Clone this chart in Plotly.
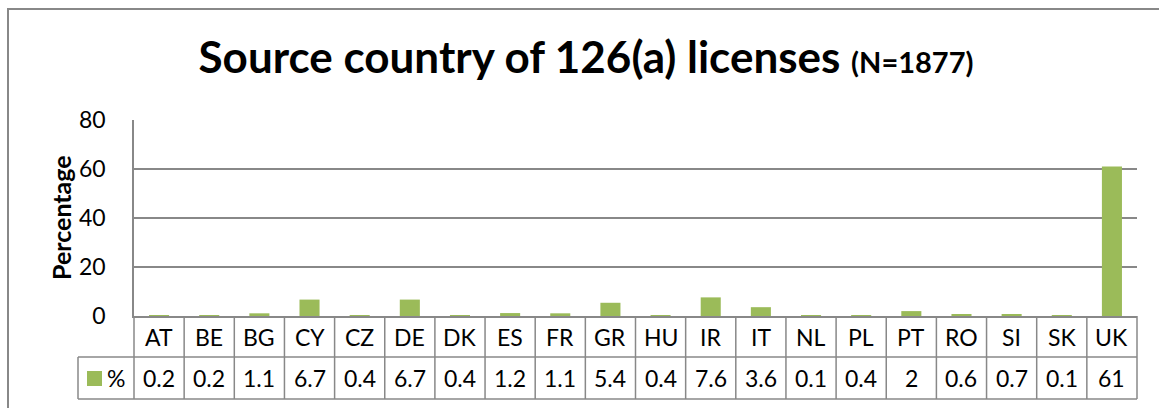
import plotly.graph_objects as go

# ---- data ----
countries = ["AT", "BE", "BG", "CY", "CZ", "DE", "DK", "ES", "FR", "GR",
             "HU", "IR", "IT", "NL", "PL", "PT", "RO", "SI", "SK", "UK"]
percent = [0.2, 0.2, 1.1, 6.7, 0.4, 6.7, 0.4, 1.2, 1.1, 5.4,
           0.4, 7.6, 3.6, 0.1, 0.4, 2, 0.6, 0.7, 0.1, 61]
series_name = "%"
y_ticks = [0, 20, 40, 60, 80]
title_main = "Source country of 126(a) licenses"
title_sub = "(N=1877)"
y_title = "Percentage"

# ---- layout geometry (pixels) ----
W, H = 1159, 408
L, R, T, B = 134, 1137, 120, 316
PW, PH = R - L, B - T

def px_x(px):
    return (px - L) / PW

def px_y(py):
    return (B - py) / PH

FONT = "Lato, 'Open Sans', sans-serif"
GREEN = "#9BBB59"
GRID = "#888888"
LW = 1.5

fig = go.Figure()
fig.add_trace(go.Bar(x=countries, y=percent, marker_color=GREEN,
                     marker_line_width=0, name=series_name, showlegend=False))

shapes = []
row1_bot = 357
row2_bot = 399
legend_left = 78
for yb in (row1_bot, row2_bot):
    shapes.append(dict(type="line", xref="paper", yref="paper",
                       x0=px_x(legend_left), x1=1, y0=px_y(yb), y1=px_y(yb),
                       line=dict(color=GRID, width=LW)))
for xp in (0, 1):
    shapes.append(dict(type="line", xref="paper", yref="paper",
                       x0=xp, x1=xp, y0=0, y1=px_y(row2_bot),
                       line=dict(color=GRID, width=LW)))
shapes.append(dict(type="line", xref="paper", yref="paper",
                   x0=px_x(legend_left), x1=px_x(legend_left),
                   y0=px_y(row1_bot), y1=px_y(row2_bot),
                   line=dict(color=GRID, width=LW)))
for i in range(1, len(countries)):
    shapes.append(dict(type="line", xref="x", yref="paper",
                       x0=i - 0.5, x1=i - 0.5, y0=0, y1=px_y(row2_bot),
                       line=dict(color=GRID, width=LW)))
# legend key square
shapes.append(dict(type="rect", xref="paper", yref="paper",
                   x0=px_x(87), x1=px_x(102), y0=px_y(371), y1=px_y(386),
                   fillcolor=GREEN, line=dict(width=0)))
# outer chart border
shapes.append(dict(type="rect", xref="paper", yref="paper",
                   x0=px_x(8), x1=px_x(W + 20), y0=px_y(9), y1=px_y(H + 20),
                   line=dict(color=GRID, width=2), fillcolor="rgba(0,0,0,0)"))

annotations = []
cell_font = dict(family=FONT, size=23, color="#000000")
for c, v in zip(countries, percent):
    annotations.append(dict(x=c, xref="x", y=px_y((B + row1_bot) / 2), yref="paper",
                            text=c, showarrow=False, font=cell_font,
                            xanchor="center", yanchor="middle"))
    annotations.append(dict(x=c, xref="x", y=px_y((row1_bot + row2_bot) / 2), yref="paper",
                            text=f"{v:g}", showarrow=False, font=cell_font,
                            xanchor="center", yanchor="middle"))
annotations.append(dict(x=px_x(116), xref="paper", y=px_y((row1_bot + row2_bot) / 2),
                        yref="paper", text=series_name, showarrow=False, font=cell_font,
                        xanchor="center", yanchor="middle"))
annotations.append(dict(x=px_x(61), xref="paper", y=px_y(218), yref="paper",
                        text=f"<b>{y_title}</b>", textangle=-90, showarrow=False,
                        font=dict(family=FONT, size=25, color="#000000"),
                        xanchor="center", yanchor="middle"))

fig.update_layout(
    width=W, height=H,
    margin=dict(l=L, r=W - R, t=T, b=H - B),
    paper_bgcolor="white", plot_bgcolor="white",
    title=dict(text=f"<b>{title_main} <span style='font-size:29px'>{title_sub}</span></b>",
               x=586 / W, xanchor="center", y=1 - 58 / H, yanchor="middle",
               xref="container", yref="container",
               font=dict(family=FONT, size=44, color="#000000")),
    bargap=0.6,
    xaxis=dict(type="category", range=[-0.5, len(countries) - 0.5],
               showticklabels=False, ticks="", showgrid=False,
               showline=True, linecolor=GRID, linewidth=LW, fixedrange=True),
    yaxis=dict(range=[0, 80], tickvals=y_ticks, showgrid=True, gridcolor=GRID,
               gridwidth=LW, zeroline=False, showline=True, linecolor=GRID,
               linewidth=LW, ticks="", ticklabelstandoff=22,
               tickfont=dict(family=FONT, size=23, color="#000000")),
    shapes=shapes, annotations=annotations, showlegend=False,
)

fig.write_html("out.html",
               config={"displayModeBar": False},
               post_script="document.body.style.margin='0';document.body.style.overflow='hidden';")
